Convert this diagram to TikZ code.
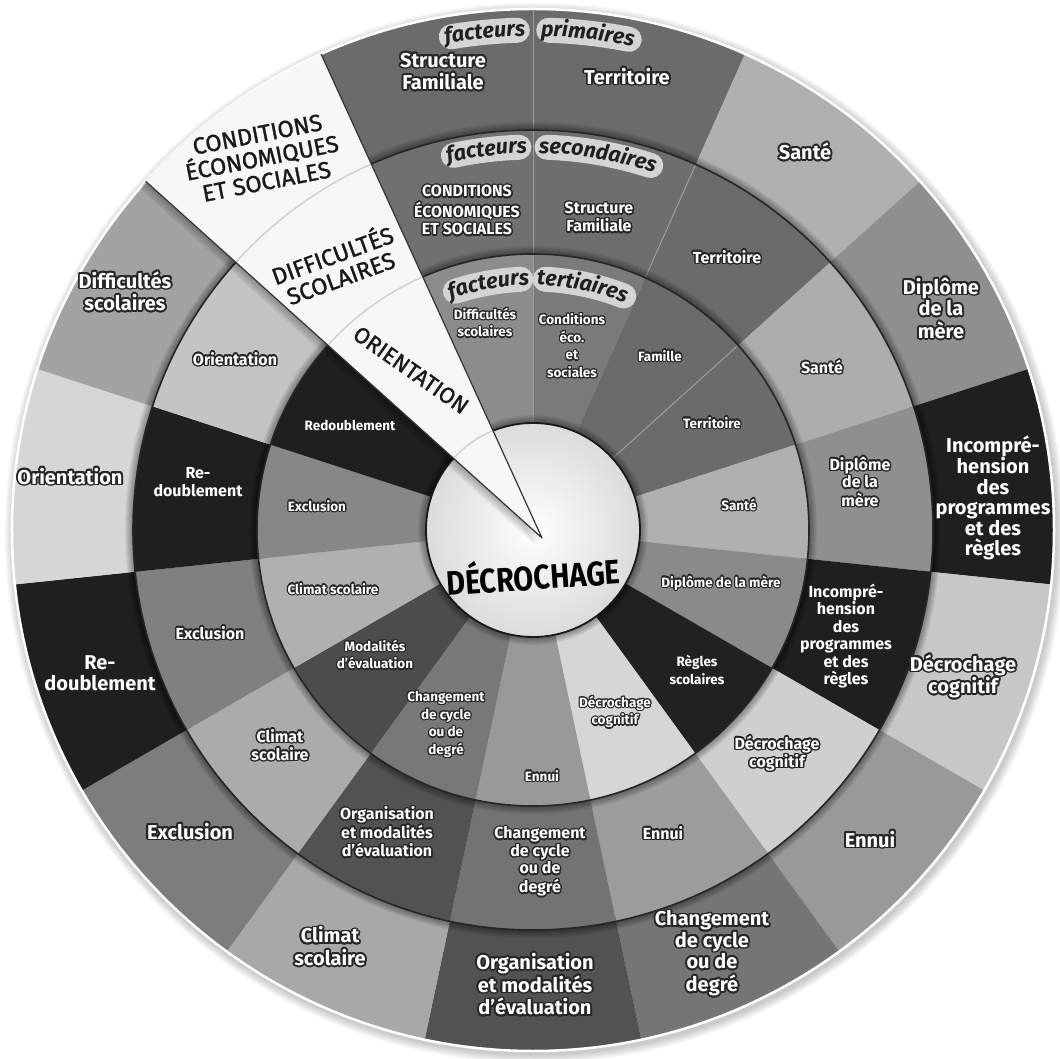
\documentclass[tikz,border=0pt]{standalone}
\usepackage{fontspec}
\setmainfont{Fira Sans}
\newfontface\wfont{Fira Sans}[FakeBold=1.2]
\usepackage{contour}
\contournumber{16}
\usetikzlibrary{decorations.text}
\newcommand\lab[1]{\contour{black!85}{\begin{tabular}{@{}c@{}}#1\end{tabular}}}
\newcommand\ftx{\fontsize{21.5}{22}\selectfont\bfseries\itshape\color{black!88}}
\newcommand\sect[5]{\fill[#5] (#1:#3pt) arc[start angle=#1, end angle=#2, radius=#3pt] -- (#2:#4pt) arc[start angle=#2, end angle=#1, radius=#4pt] -- cycle;}
\newcommand\shad[1]{\foreach \i in {1,...,8}{\pgfmathsetmacro\w{2*\i}\draw[black, opacity=0.05, line width=\w pt] (0,0) circle[radius=#1pt];}}
\begin{document}
\begin{tikzpicture}[x=1pt,y=1pt,
  lo/.style={text=white, inner sep=0pt, font=\fontsize{20}{20.5}\selectfont\bfseries\contourlength{1.8pt}},
  lm/.style={text=white, inner sep=0pt, font=\fontsize{16}{17.5}\selectfont\bfseries\contourlength{1.4pt}},
  li/.style={text=white, inner sep=0pt, font=\fontsize{13.5}{17.8}\selectfont\bfseries\contourlength{1.1pt}},
  wlab/.style={text=black!90, inner sep=0pt, align=center, font=\wfont\fontsize{23.5}{24}\selectfont},
  glow/.style={black!17, line width=25pt, line cap=round},
  sepline/.style={black!38, line width=1pt},
  ringline/.style={black!85, line width=1.6pt}]
\fill[white] (-533,-529) rectangle (527,530);
\useasboundingbox (-533,-529) rectangle (527,530);
% soft shadow of the disc
\foreach \i in {1,...,6}{\pgfmathsetmacro\rr{521+1.5*\i}\fill[black,opacity=0.035] (2,-3) circle[radius=\rr pt];}
% outer ring
\foreach \k/\p in {0/58,1/31,2/44,3/88,4/22,5/40,6/54,7/68,8/34,9/51,10/88,11/16,12/36,13/0,14/58}{
  \pgfmathsetmacro\a{90-24*\k}\pgfmathsetmacro\b{66-24*\k}
  \sect{\a}{\b}{395}{521}{black!\p}}
\draw[sepline] (90:400pt) -- (90:521pt);
\shad{400}
% middle ring
\foreach \k/\p in {0/57,1/58,2/32,3/44,4/88,5/19,6/39,7/55,8/68,9/33,10/50,11/88,12/23,13/0,14/56}{
  \pgfmathsetmacro\a{90-24*\k}\pgfmathsetmacro\b{66-24*\k}
  \sect{\a}{\b}{272}{400}{black!\p}}
\draw[sepline] (90:276pt) -- (90:400pt);
\draw[sepline] (66:276pt) -- (66:400pt);
\draw[ringline] (0,0) circle[radius=400pt];
\shad{276}
% inner ring
\foreach \k/\p in {0/52,1/58,2/58,3/31,4/46,5/87,6/16,7/40,8/53,9/70,10/31,11/47,12/88,13/0,14/45}{
  \pgfmathsetmacro\a{90-24*\k}\pgfmathsetmacro\b{66-24*\k}
  \sect{\a}{\b}{100}{276}{black!\p}}
\draw[sepline] (90:107pt) -- (90:276pt);
\draw[sepline] (42:107pt) -- (42:276pt);
\draw[ringline] (0,0) circle[radius=276pt];
\shad{107}
% centre disc
\shade[inner color=white, outer color=black!14] (0,0) circle[radius=107pt];
\draw[black!90, line width=1.8pt] (0,0) circle[radius=107pt];
% outer rim
\draw[white, line width=2.5pt] (0,0) circle[radius=521pt];

% outer labels
\node[lo] (oSF) at (-90,455) {\lab{Structure\\Familiale}};
\node[lo] (oTe) at (94,450) {\lab{Territoire}};
\node[lo] (oSa) at (272,375) {\lab{Santé}};
\node[lo] (oDi) at (408,218) {\lab{Diplôme\\de la\\mère}};
\node[lo, align=center] (oIn) at (460,32) {Incompré-\\hension\\des\\programmes\\et des\\règles};
\node[lo] (oDc) at (430,-148) {\lab{Décrochage\\cognitif}};
\node[lo] (oEn) at (337,-313) {\lab{Ennui}};
\node[lo] (oCh) at (179,-425) {\lab{Changement\\de cycle\\ou de\\degré}};
\node[lo] (oOr) at (2,-458) {\lab{Organisation\\et modalités\\d’évaluation}};
\node[lo] (oCl) at (-203,-420) {\lab{Climat\\scolaire}};
\node[lo] (oEx) at (-343,-305) {\lab{Exclusion}};
\node[lo, align=center] (oRe) at (-433,-143) {Re-\\doublement};
\node[lo] (oOn) at (-463,50) {\lab{Orientation}};
\node[lo] (oDs) at (-408,235) {\lab{Difficultés\\scolaires}};
% middle labels
\node[lm] (mCo) at (-66,317) {\lab{CONDITIONS\\ÉCONOMIQUES\\ET SOCIALES}};
\node[lm] (mSF) at (66,310) {\lab{Structure\\Familiale}};
\node[lm] (mTe) at (194,270) {\lab{Territoire}};
\node[lm] (mSa) at (289,160) {\lab{Santé}};
\node[lm] (mDi) at (327,45) {\lab{Diplôme\\de la\\mère}};
\node[lm, align=center] (mIn) at (313,-106) {Incompré-\\hension\\des\\programmes\\et des\\règles};
\node[lm] (mDc) at (244,-225) {\lab{Décrochage\\cognitif}};
\node[lm] (mEn) at (130,-306) {\lab{Ennui}};
\node[lm] (mCh) at (7,-333) {\lab{Changement\\de cycle\\ou de\\degré}};
\node[lm] (mOr) at (-146,-305) {\lab{Organisation\\et modalités\\d’évaluation}};
\node[lm] (mCl) at (-253,-218) {\lab{Climat\\scolaire}};
\node[lm] (mEx) at (-323,-106) {\lab{Exclusion}};
\node[lm, align=center] (mRe) at (-335,48) {Re-\\doublement};
\node[lm] (mOn) at (-298,168) {\lab{Orientation}};
% inner labels
\node[li] (iDs) at (-48,205) {\lab{Difficultés\\scolaires}};
\node[li] (iCo) at (39,182) {\lab{Conditions\\éco.\\et\\sociales}};
\node[li] (iFa) at (127,172) {\lab{Famille}};
\node[li] (iTe) at (179,105) {\lab{Territoire}};
\node[li] (iSa) at (206,23) {\lab{Santé}};
\node[li] (iDi) at (188,-54) {\lab{Diplôme de la mère}};
\node[li, align=center] (iRg) at (164,-140) {Règles\\scolaires};
\node[li] (iDc) at (82,-183) {\lab{Décrochage\\cognitif}};
\node[li] (iEn) at (9,-248) {\lab{Ennui}};
\node[li] (iCh) at (-87,-195) {\lab{Changement\\de cycle\\ou de\\degré}};
\node[li] (iMo) at (-158,-127) {\lab{Modalités\\d’évaluation}};
\node[li] (iCl) at (-200,-61) {\lab{Climat scolaire}};
\node[li] (iEx) at (-216,22) {\lab{Exclusion}};
\node[li] (iRe) at (-183,105) {Redoublement};

% pointer wedge
\begin{scope}
\clip (0,0) circle[radius=521pt];
\foreach \i in {1,...,5}{\fill[black,opacity=0.06,shift={(-1.5*\i,-1.2*\i)}] (9,-8) -- (138:521pt) arc[start angle=138, end angle=114, radius=521pt] -- cycle;}
\fill[white!97!black] (9,-8) -- (138:521pt) arc[start angle=138, end angle=114, radius=521pt] -- cycle;
\clip (9,-8) -- (138:521pt) arc[start angle=138, end angle=114, radius=521pt] -- cycle;
\draw[black!18, line width=1.5pt] (0,0) circle[radius=400pt] (0,0) circle[radius=276pt] (0,0) circle[radius=107pt];
\end{scope}
\draw[black!80, line width=1.2pt, line join=round] (138:521pt) -- (9,-8) -- (114:521pt);
\node[wlab, rotate=11] (wCo) at (-271,372) {CONDITIONS\\ÉCONOMIQUES\\ET SOCIALES};
\node[wlab, rotate=20] (wDi) at (-197,265) {DIFFICULTÉS\\SCOLAIRES};
\node[wlab, rotate=-35, font=\wfont\fontsize{22.5}{23}\selectfont] (wOr) at (-122,160) {ORIENTATION};

% centre title
\node[inner sep=0pt, text=black, rotate=4, xscale=0.85, font=\fontsize{34}{34}\selectfont\bfseries] (dec) at (0,-44) {DÉCROCHAGE};

% curved headings: glow pills
\draw[glow] (99.4:500pt) arc[start angle=99.4, end angle=91.8, radius=500pt];
\draw[glow] (88.2:500pt) arc[start angle=88.2, end angle=78.9, radius=500pt];
\draw[glow] (102.0:383pt) arc[start angle=102.0, end angle=92.1, radius=383pt];
\draw[glow] (87.9:383pt) arc[start angle=87.9, end angle=72.1, radius=383pt];
\draw[glow] (108.0:251pt) arc[start angle=108.0, end angle=92.8, radius=251pt];
\draw[glow] (87.2:251pt) arc[start angle=87.2, end angle=68.8, radius=251pt];
\path[decorate, decoration={text along path, text={|\ftx|facteurs}, text align=right}] (125:494pt) arc[start angle=125, end angle=90.9, radius=494pt];
\path[decorate, decoration={text along path, text={|\ftx|primaires}, text align=left}] (89.1:494pt) arc[start angle=89.1, end angle=55, radius=494pt];
\path[decorate, decoration={text along path, text={|\ftx|facteurs}, text align=right}] (130:377pt) arc[start angle=130, end angle=90.9, radius=377pt];
\path[decorate, decoration={text along path, text={|\ftx|secondaires}, text align=left}] (89.1:377pt) arc[start angle=89.1, end angle=45, radius=377pt];
\path[decorate, decoration={text along path, text={|\ftx|facteurs}, text align=right}] (140:245pt) arc[start angle=140, end angle=90.9, radius=245pt];
\path[decorate, decoration={text along path, text={|\ftx|tertiaires}, text align=left}] (89.1:245pt) arc[start angle=89.1, end angle=35, radius=245pt];
\end{tikzpicture}
\end{document}
